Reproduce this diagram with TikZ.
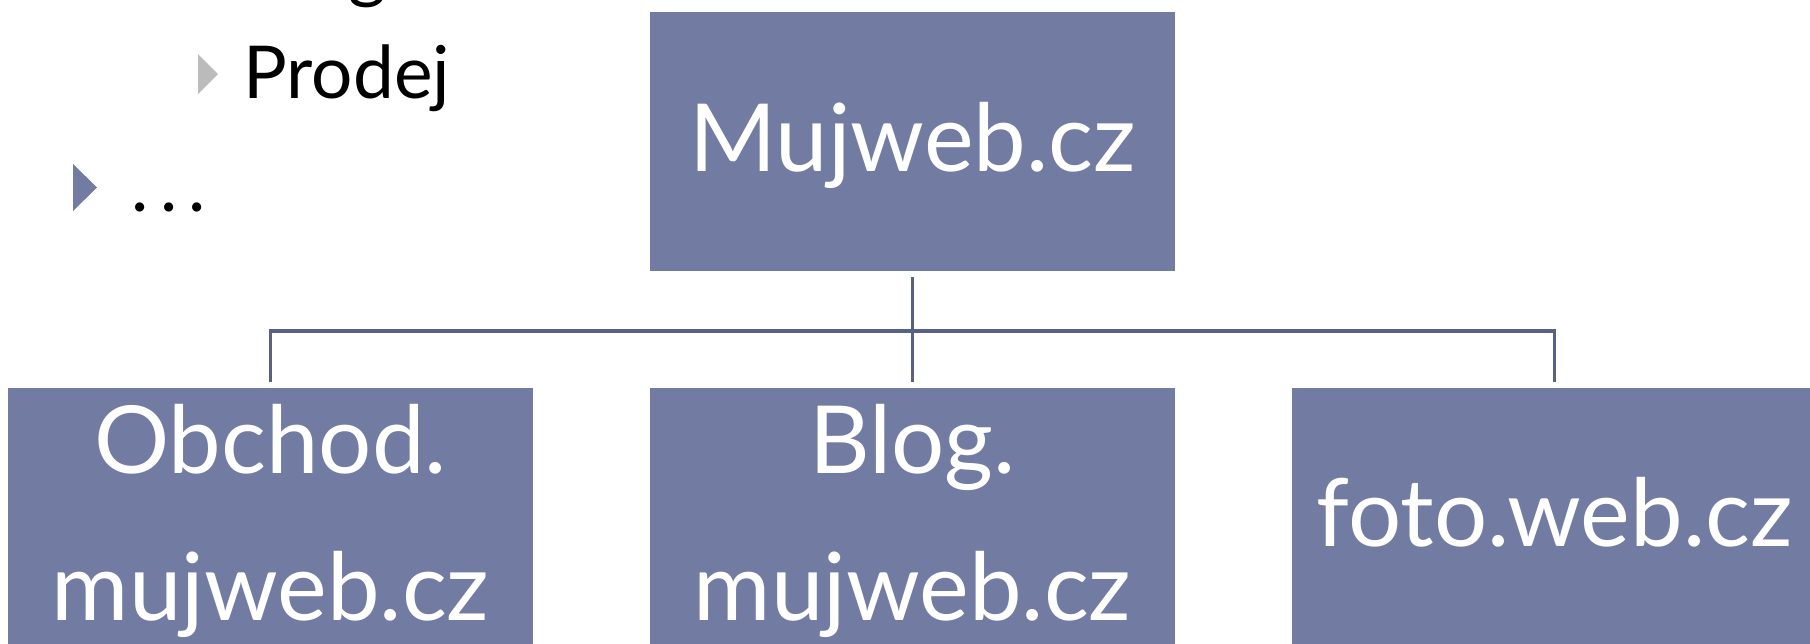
\documentclass[tikz,border=0pt]{standalone}
\usepackage{fontspec}
\setmainfont{Lato}
\definecolor{boxfill}{RGB}{114,124,162}
\definecolor{linecol}{RGB}{89,97,131}
\definecolor{bulgray}{RGB}{187,187,187}
\begin{document}
\begin{tikzpicture}[x=0.5pt,y=-0.5pt,
  box/.style={fill=boxfill, draw=none, inner sep=0pt, minimum width=262.5pt},
  boxtext/.style={text=white, font=\fontsize{47}{73.5}\selectfont, align=center, inner sep=0pt, anchor=base},
  bodytext/.style={font=\fontsize{36.5}{44}\selectfont, inner sep=0pt, anchor=base west},
  conn/.style={draw=linecol, line width=1.8pt}]
\useasboundingbox (0,0) rectangle (1810,643);
% boxes
\node[box, minimum height=129.75pt] (top) at (912.5,141.25) {};
\node[box, minimum height=136pt, anchor=north] (obchod) at (270.5,388) {};
\node[box, minimum height=136pt, anchor=north] (blog) at (912.5,388) {};
\node[box, minimum height=136pt, anchor=north] (foto) at (1554.5,388) {};
% box texts
\node[boxtext] (toptext) at (912.5,171) {Mujweb.cz};
\node[boxtext] (obchodtext) at (270.5,620) {Obchod.\\mujweb.cz};
\node[boxtext] (blogtext) at (912.5,620) {Blog.\\mujweb.cz};
\node[boxtext] (fototext) at (1554.5,546) {foto.web.cz};
% connectors
\draw[conn, shorten <=3pt, shorten >=3pt] (top.south) -- (blog.north);
\draw[conn, shorten <=3pt, shorten >=3pt] (obchod.north) -- ++(0,-57) -| (foto.north);
% bullets
\fill[bulgray] (198,54) -- (218,74) -- (198,94) -- cycle;
\fill[boxfill] (73,164) -- (97,187.5) -- (73,211) -- cycle;
\node[bodytext] (blogitem) at (243,-6) {Blog};
\node[bodytext] (prodej) at (243,98) {Prodej};
\node[bodytext] (dots) at (131,211) {.\kern5.75pt.\kern5.75pt.};
\end{tikzpicture}
\end{document}
